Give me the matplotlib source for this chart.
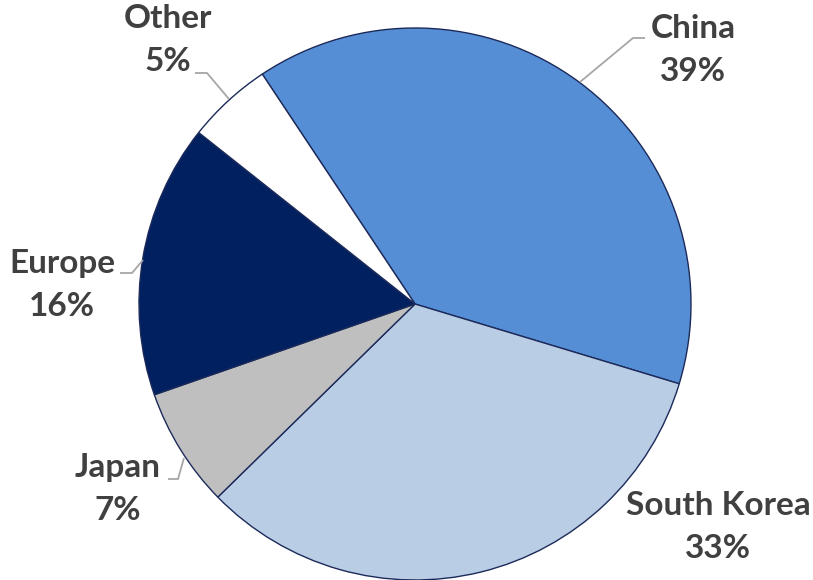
import matplotlib.pyplot as plt

# market share by region
regions = ["China", "South Korea", "Japan", "Europe", "Other"]
shares = [39, 33, 7, 16, 5]
colors = ["#558ED5", "#B9CDE5", "#BFBFBF", "#002060", "#FFFFFF"]

W, H = 813, 580

def px(x, y):
    # pixel coords (origin top-left) -> axes data coords
    return x, H - y

fig = plt.figure(figsize=(W / 100, H / 100), dpi=100)
ax = fig.add_axes([0, 0, 1, 1])

ax.pie(shares, colors=colors, startangle=123.6, counterclock=False,
       center=px(415, 304), radius=276,
       wedgeprops=dict(edgecolor="#1C2A5A", linewidth=1.0))

# pie() resets the limits, so set them afterwards
ax.set_xlim(0, W)
ax.set_ylim(0, H)
ax.set_aspect("equal")
ax.axis("off")

# label placement and leader lines (pixel coords)
label_pos = {
    "China": (693, 50),
    "South Korea": (718, 527),
    "Japan": (118, 489),
    "Europe": (62, 285),
    "Other": (168, 40),
}
leaders = {
    "China": [(580, 82), (633, 38), (645, 38)],
    "Japan": [(168, 479), (178, 479), (184, 458)],
    "Europe": [(120, 273), (132, 273), (143, 260)],
    "Other": [(195, 73), (207, 73), (229, 99)],
}

for name, pct in zip(regions, shares):
    x, y = px(*label_pos[name])
    ax.text(x, y, f"{name}\n{pct}%", ha="center", va="center",
            fontsize=24, fontweight="bold", family="Lato",
            color="#404040", linespacing=1.6)
    if name in leaders:
        pts = [px(a, b) for a, b in leaders[name]]
        ax.plot([p[0] for p in pts], [p[1] for p in pts],
                color="#A6A6A6", linewidth=1.3, solid_capstyle="butt")

fig.savefig("out.png", dpi=100)
